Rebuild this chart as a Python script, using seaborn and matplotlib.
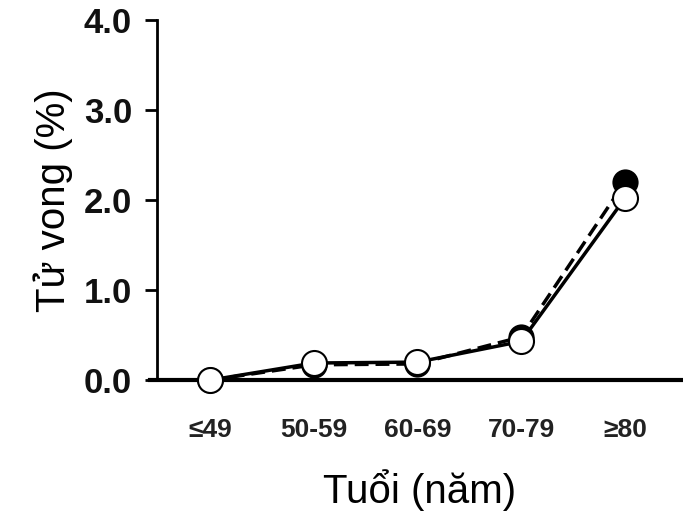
import matplotlib
matplotlib.use("Agg")
import matplotlib.pyplot as plt
import seaborn as sns
import pandas as pd

age_groups = ["≤49", "50-59", "60-69", "70-79", "≥80"]
mortality_filled = [0.0, 0.17, 0.18, 0.48, 2.2]
mortality_open = [0.0, 0.19, 0.2, 0.43, 2.02]
y_ticks = [0.0, 1.0, 2.0, 3.0, 4.0]
y_tick_labels = ["0.0", "1.0", "2.0", "3.0", "4.0"]

sns.set_theme(style="ticks")
plt.rcParams["font.family"] = ["Liberation Sans", "DejaVu Sans"]

df_f = pd.DataFrame({"age": age_groups, "val": mortality_filled})
df_o = pd.DataFrame({"age": age_groups, "val": mortality_open})

fig = plt.figure(figsize=(6.83, 5.2), dpi=100)
ax = fig.add_axes([0.23, 0.269, 0.77, 0.6925])

sns.pointplot(data=df_f, x="age", y="val", order=age_groups, color="black",
              linestyles="--", markers="o", markersize=17, linewidth=2.5,
              markerfacecolor="black", markeredgecolor="black", ax=ax,
              clip_on=False, zorder=3, dashes=(4, 2))
sns.pointplot(data=df_o, x="age", y="val", order=age_groups, color="black",
              linestyles="-", markers="o", markersize=18, linewidth=2.5,
              markerfacecolor="white", markeredgecolor="black",
              markeredgewidth=1.5, ax=ax, clip_on=False, zorder=4)

ax.set_xlim(-0.51, 4.56)
ax.set_ylim(0, 4.0)
ax.set_yticks(y_ticks)
ax.set_yticklabels(y_tick_labels, fontsize=25, fontweight="bold", color="#111111")
ax.set_xticks(range(len(age_groups)))
ax.set_xticklabels(age_groups, fontsize=19, fontweight="bold", color="#222222")
ax.tick_params(axis="x", length=0, pad=27)
ax.tick_params(axis="y", length=9, width=2, pad=9, color="black")

for s in ["top", "right"]:
    ax.spines[s].set_visible(False)
ax.spines["left"].set_linewidth(2)
ax.spines["left"].set_color("black")
ax.spines["bottom"].set_linewidth(3)
ax.spines["bottom"].set_color("black")
ax.spines["bottom"].set_bounds(-0.58, 4.56)

ax.set_xlabel("Tuổi (năm)", fontsize=29, labelpad=20, color="black")
ax.set_ylabel("Tử vong (%)", fontsize=29, labelpad=8, color="black")
ax.grid(False)

fig.savefig("out.png", dpi=100)
